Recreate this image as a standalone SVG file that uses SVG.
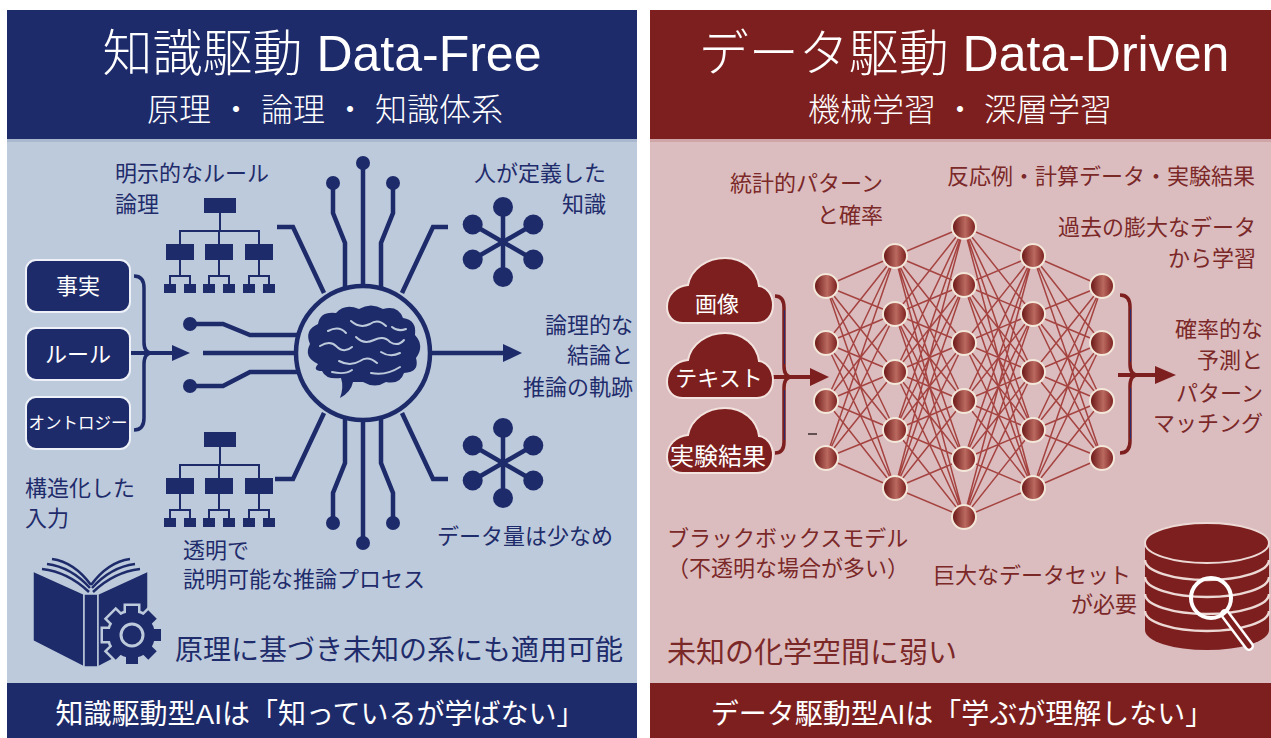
<svg xmlns="http://www.w3.org/2000/svg" xmlns:xlink="http://www.w3.org/1999/xlink" width="1271" height="738" viewBox="0 0 1271 738">
  <style>
    .jp { font-family: "Noto Sans CJK JP", "Noto Sans", sans-serif; }
    .mix { font-family: "Liberation Sans", "Noto Sans CJK JP", sans-serif; }
    .light { font-weight: 300; }
    .navyTxt { fill: #1f2c6c; font-size: 22px; }
    .redTxt { fill: #7b2828; font-size: 22px; }
    .white { fill: #ffffff; }
    .circuit { fill: none; stroke: #1e2b6b; stroke-width: 4.5; }
    .navyFill { fill: #1e2b6b; }
    .redFill { fill: #7e1f1f; }
    .tree line { stroke: #1e2b6b; stroke-width: 2; }
    .tree rect { fill: #1e2b6b; }
    .net { fill: none; stroke: #9e3532; stroke-width: 1.5; stroke-opacity: 0.9; }
    .node { fill: url(#nodeGrad); stroke: #f3e7da; stroke-width: 2; }
    .cloud { fill: #7e1f1f; stroke: #f3e3df; stroke-width: 2; }
  </style>
  <defs>
    <linearGradient id="nodeGrad" x1="0" y1="0" x2="1" y2="0">
      <stop offset="0" stop-color="#661313"/>
      <stop offset="0.55" stop-color="#bb6a60"/>
      <stop offset="1" stop-color="#781c1c"/>
    </linearGradient>
    <!-- org-chart icon -->
    <g id="tree" class="tree">
      <rect x="204" y="432" width="32" height="15"/>
      <line x1="220" y1="447" x2="220" y2="465"/>
      <line x1="179" y1="465" x2="260" y2="465"/>
      <line x1="180" y1="465" x2="180" y2="478"/>
      <line x1="219" y1="465" x2="219" y2="478"/>
      <line x1="259" y1="465" x2="259" y2="478"/>
      <rect x="166" y="478" width="28" height="16"/>
      <rect x="205" y="478" width="28" height="16"/>
      <rect x="245" y="478" width="28" height="16"/>
      <line x1="180" y1="494" x2="180" y2="510"/>
      <line x1="219" y1="494" x2="219" y2="510"/>
      <line x1="259" y1="494" x2="259" y2="510"/>
      <line x1="169" y1="510" x2="191" y2="510"/>
      <line x1="208" y1="510" x2="230" y2="510"/>
      <line x1="248" y1="510" x2="270" y2="510"/>
      <line x1="170" y1="510" x2="170" y2="518"/>
      <line x1="190" y1="510" x2="190" y2="518"/>
      <line x1="209" y1="510" x2="209" y2="518"/>
      <line x1="229" y1="510" x2="229" y2="518"/>
      <line x1="249" y1="510" x2="249" y2="518"/>
      <line x1="269" y1="510" x2="269" y2="518"/>
      <rect x="164" y="518" width="12" height="9"/>
      <rect x="184" y="518" width="12" height="9"/>
      <rect x="203" y="518" width="12" height="9"/>
      <rect x="223" y="518" width="12" height="9"/>
      <rect x="243" y="518" width="12" height="9"/>
      <rect x="263" y="518" width="12" height="9"/>
    </g>
    <!-- six-armed network star -->
    <g id="star">
      <line x1="0" y1="-35" x2="0" y2="35" stroke="#1e2b6b" stroke-width="4.5"/>
      <line x1="-30.3" y1="-17.5" x2="30.3" y2="17.5" stroke="#1e2b6b" stroke-width="4.5"/>
      <line x1="-30.3" y1="17.5" x2="30.3" y2="-17.5" stroke="#1e2b6b" stroke-width="4.5"/>
      <circle cx="0" cy="-35" r="10" fill="#1e2b6b"/>
      <circle cx="0" cy="35" r="10" fill="#1e2b6b"/>
      <circle cx="-30.3" cy="-17.5" r="10" fill="#1e2b6b"/>
      <circle cx="30.3" cy="17.5" r="10" fill="#1e2b6b"/>
      <circle cx="-30.3" cy="17.5" r="10" fill="#1e2b6b"/>
      <circle cx="30.3" cy="-17.5" r="10" fill="#1e2b6b"/>
    </g>
    <!-- gear silhouette -->
    <g id="gearShape">
      <circle r="23"/>
      <rect x="-6" y="-29" width="12" height="10"/>
      <rect x="-6" y="-29" width="12" height="10" transform="rotate(45)"/>
      <rect x="-6" y="-29" width="12" height="10" transform="rotate(90)"/>
      <rect x="-6" y="-29" width="12" height="10" transform="rotate(135)"/>
      <rect x="-6" y="-29" width="12" height="10" transform="rotate(180)"/>
      <rect x="-6" y="-29" width="12" height="10" transform="rotate(225)"/>
      <rect x="-6" y="-29" width="12" height="10" transform="rotate(270)"/>
      <rect x="-6" y="-29" width="12" height="10" transform="rotate(315)"/>
    </g>
    <path id="cloudShape" d="M16 65 C6 65 0 58 0 49 C0 37 9 28 21 27 C24 11 40 0 58 0 C76 0 90 12 92 28 C100 29 106 37 106 47 C106 58 99 65 90 65 Z"/>
  </defs>

  <rect width="1271" height="738" fill="#ffffff"/>

  <!-- ===== left panel: knowledge-driven ===== -->
  <g id="left-panel">
    <rect x="7" y="139" width="630" height="544" fill="#bdcadb"/>
    <rect x="7" y="10" width="630" height="129" fill="#1e2b6b"/>
    <rect x="7" y="139" width="630" height="3" fill="#a9b8cf"/>
    <rect x="7" y="683" width="630" height="55" fill="#1e2b6b"/>
    <text class="mix white light" x="322" y="71" font-size="50" text-anchor="middle">知識駆動 Data-Free</text>
    <text class="jp white light" y="121" font-size="32"><tspan x="147">原理</tspan><tspan x="220">・</tspan><tspan x="261">論理</tspan><tspan x="334">・</tspan><tspan x="375">知識体系</tspan></text>
    <text class="mix white" x="320" y="724" font-size="28" text-anchor="middle">知識駆動型AIは「知っているが学ばない」</text>
  </g>

  <!-- ===== right panel: data-driven ===== -->
  <g id="right-panel">
    <rect x="650" y="139" width="621" height="544" fill="#dbbdbf"/>
    <rect x="650" y="10" width="621" height="129" fill="#7e1f1f"/>
    <rect x="650" y="139" width="621" height="3" fill="#cfa5a7"/>
    <rect x="650" y="683" width="621" height="55" fill="#7e1f1f"/>
    <text class="mix white light" x="964" y="71" font-size="50" text-anchor="middle">データ駆動 Data-Driven</text>
    <text class="jp white light" y="121" font-size="32"><tspan x="808">機械学習</tspan><tspan x="944">・</tspan><tspan x="984">深層学習</tspan></text>
    <text class="mix white" x="962" y="724" font-size="28" text-anchor="middle">データ駆動型AIは「学ぶが理解しない」</text>
  </g>

  <!-- ===== connectors ===== -->
  <g id="connectors">
    <!-- left: circuit traces around the brain -->
    <path class="circuit" d="M363,287 L363,165"/>
    <path class="circuit" d="M345,288 L345,243 L333,213 L333,185"/>
    <path class="circuit" d="M381,288 L381,243 L393,213 L393,185"/>
    <path class="circuit" d="M277,227 L293,227 L324,293"/>
    <path class="circuit" d="M448,227 L433,227 L402,293"/>
    <path class="circuit" d="M363,419 L363,541"/>
    <path class="circuit" d="M345,418 L345,463 L333,493 L333,521"/>
    <path class="circuit" d="M381,418 L381,463 L393,493 L393,521"/>
    <path class="circuit" d="M275,479 L293,479 L324,413"/>
    <path class="circuit" d="M448,479 L433,479 L402,413"/>
    <path class="circuit" d="M190,324 L223,324 L250,335 L302,335"/>
    <path class="circuit" d="M203,353 L302,353"/>
    <path class="circuit" d="M190,386 L223,386 L250,372 L302,372"/>
    <g class="navyFill">
      <circle cx="363" cy="163" r="7"/>
      <circle cx="333" cy="183" r="7"/>
      <circle cx="393" cy="183" r="7"/>
      <circle cx="363" cy="543" r="7"/>
      <circle cx="333" cy="523" r="7"/>
      <circle cx="393" cy="523" r="7"/>
      <circle cx="190" cy="324" r="7"/>
      <circle cx="190" cy="386" r="7"/>
    </g>
    <!-- left: output arrow -->
    <path class="circuit" d="M432,353 L506,353"/>
    <polygon class="navyFill" points="503,344 522,353 503,362"/>
    <!-- left: input brace and arrow -->
    <path d="M134,276 Q144,276 144,288 L144,342 Q144,353 152,353 Q144,353 144,364 L144,418 Q144,430 134,430" fill="none" stroke="#1e2b6b" stroke-width="3.5"/>
    <path d="M131,353 L176,353" stroke="#1e2b6b" stroke-width="4"/>
    <polygon class="navyFill" points="172,345 190,353 172,361"/>

    <!-- right: fully connected layers -->
    <path class="net" d="M826,286L895,256M826,286L895,314M826,286L895,372M826,286L895,430M826,286L895,488M826,343L895,256M826,343L895,314M826,343L895,372M826,343L895,430M826,343L895,488M826,401L895,256M826,401L895,314M826,401L895,372M826,401L895,430M826,401L895,488M826,458L895,256M826,458L895,314M826,458L895,372M826,458L895,430M826,458L895,488"/>
    <path class="net" d="M895,256L964,227M895,256L964,285M895,256L964,343M895,256L964,401M895,256L964,459M895,256L964,517M895,314L964,227M895,314L964,285M895,314L964,343M895,314L964,401M895,314L964,459M895,314L964,517M895,372L964,227M895,372L964,285M895,372L964,343M895,372L964,401M895,372L964,459M895,372L964,517M895,430L964,227M895,430L964,285M895,430L964,343M895,430L964,401M895,430L964,459M895,430L964,517M895,488L964,227M895,488L964,285M895,488L964,343M895,488L964,401M895,488L964,459M895,488L964,517"/>
    <path class="net" d="M964,227L1033,256M964,227L1033,314M964,227L1033,372M964,227L1033,430M964,227L1033,488M964,285L1033,256M964,285L1033,314M964,285L1033,372M964,285L1033,430M964,285L1033,488M964,343L1033,256M964,343L1033,314M964,343L1033,372M964,343L1033,430M964,343L1033,488M964,401L1033,256M964,401L1033,314M964,401L1033,372M964,401L1033,430M964,401L1033,488M964,459L1033,256M964,459L1033,314M964,459L1033,372M964,459L1033,430M964,459L1033,488M964,517L1033,256M964,517L1033,314M964,517L1033,372M964,517L1033,430M964,517L1033,488"/>
    <path class="net" d="M1033,256L1102,286M1033,256L1102,343M1033,256L1102,401M1033,256L1102,458M1033,314L1102,286M1033,314L1102,343M1033,314L1102,401M1033,314L1102,458M1033,372L1102,286M1033,372L1102,343M1033,372L1102,401M1033,372L1102,458M1033,430L1102,286M1033,430L1102,343M1033,430L1102,401M1033,430L1102,458M1033,488L1102,286M1033,488L1102,343M1033,488L1102,401M1033,488L1102,458"/>
    <!-- right: input brace and arrow -->
    <path d="M775,296 Q784,296 784,308 L784,366 Q784,377 792,377 Q784,377 784,388 L784,442 Q784,453 775,453" fill="none" stroke="#7e1f1f" stroke-width="3.5"/>
    <path d="M784.5,310 L784.5,364 M784.5,390 L784.5,440" stroke="#2b2c6e" stroke-width="1"/>
    <path d="M770,377 L812,377" stroke="#7e1f1f" stroke-width="4"/>
    <polygon class="redFill" points="810,368 829,377 810,386"/>
    <!-- right: output brace and arrow -->
    <path d="M1120,295 Q1130,295 1130,307 L1130,364 Q1130,375 1138,375 Q1130,375 1130,386 L1130,441 Q1130,453 1120,453" fill="none" stroke="#7e1f1f" stroke-width="3.5"/>
    <path d="M1130.5,309 L1130.5,362 M1130.5,388 L1130.5,439" stroke="#2b2c6e" stroke-width="1"/>
    <path d="M1118,375 L1158,375" stroke="#7e1f1f" stroke-width="4"/>
    <polygon class="redFill" points="1155,366 1176,375 1155,384"/>
    <path d="M808,434 L817,434" stroke="#3a2c2c" stroke-width="1.5"/>
  </g>

  <!-- ===== left nodes ===== -->
  <g id="brain-hub">
    <circle cx="363" cy="353" r="67" fill="#bdcadb" stroke="#1e2b6b" stroke-width="4.5"/>
    <path class="navyFill" d="M318,364 Q303,357 310,344 Q304,330 318,324 Q320,311 336,313 Q345,303 359,309 Q371,302 383,309 Q398,305 403,318 Q417,320 415,335 Q425,346 416,358 Q420,372 404,373 Q400,385 386,382 Q375,389 363,382 L353,382 Q351,392 340,398 Q344,387 341,378 Q326,380 322,371 Q312,371 318,364 Z"/>
    <g fill="none" stroke="#bdcadb" stroke-width="2" stroke-linecap="round">
      <path d="M320,346 Q330,340 336,346 Q344,354 352,347"/>
      <path d="M328,331 Q339,325 346,333"/>
      <path d="M351,321 Q360,329 370,324 Q378,318 386,326"/>
      <path d="M356,337 Q364,345 374,340 Q384,335 390,342 Q398,347 404,340"/>
      <path d="M339,361 Q350,367 360,361 Q368,355 377,363"/>
      <path d="M381,352 Q390,358 400,353"/>
      <path d="M392,327 Q398,332 406,329"/>
      <path d="M332,372 Q345,375 352,370"/>
      <path d="M371,373 Q386,376 400,367"/>
    </g>
  </g>

  <g id="tree-top"><use xlink:href="#tree" transform="translate(0,-234)"/></g>
  <g id="tree-bottom"><use xlink:href="#tree"/></g>
  <g id="star-top"><use xlink:href="#star" transform="translate(503,242)"/></g>
  <g id="star-bottom"><use xlink:href="#star" transform="translate(503,463)"/></g>

  <g id="box-facts">
    <rect x="26" y="260" width="104" height="52" rx="10" fill="#1e2b6b" stroke="#eef2f8" stroke-width="2"/>
    <text class="jp white" x="78" y="294" font-size="22" text-anchor="middle">事実</text>
  </g>
  <g id="box-rules">
    <rect x="26" y="328" width="104" height="52" rx="10" fill="#1e2b6b" stroke="#eef2f8" stroke-width="2"/>
    <text class="jp white" x="78" y="362" font-size="22" text-anchor="middle">ルール</text>
  </g>
  <g id="box-ontology">
    <rect x="26" y="397" width="104" height="52" rx="10" fill="#1e2b6b" stroke="#eef2f8" stroke-width="2"/>
    <text class="jp white" x="78" y="429" font-size="16.5" text-anchor="middle">オントロジー</text>
  </g>

  <g id="book-gear">
    <polygon points="33,571 84,594 84,667 33,641" fill="#1e2b6b" stroke="#bdcadb" stroke-width="1.5"/>
    <rect x="84" y="594" width="14" height="73" fill="#1e2b6b" stroke="#bdcadb" stroke-width="1.5"/>
    <polygon points="98,594 148,571 148,641 98,667" fill="#1e2b6b" stroke="#bdcadb" stroke-width="1.5"/>
    <g fill="none" stroke="#1e2b6b" stroke-width="2.5">
      <path d="M42,569 Q68,572 89,592"/>
      <path d="M47,564 Q71,567 90,588"/>
      <path d="M52,559 Q74,562 91,585"/>
      <path d="M140,569 Q114,572 93,592"/>
      <path d="M135,564 Q111,567 92,588"/>
      <path d="M130,559 Q108,562 91,585"/>
    </g>
    <use xlink:href="#gearShape" transform="translate(132,635)" fill="#bdcadb" stroke="#bdcadb" stroke-width="5"/>
    <use xlink:href="#gearShape" transform="translate(132,635)" fill="#1e2b6b"/>
    <circle cx="132" cy="635" r="11" fill="#1e2b6b" stroke="#bdcadb" stroke-width="3"/>
  </g>

  <!-- left labels -->
  <g id="left-labels" class="jp navyTxt">
    <text x="115" y="181">明示的なルール</text>
    <text x="115" y="212">論理</text>
    <text x="606" y="181" text-anchor="end">人が定義した</text>
    <text x="606" y="212" text-anchor="end">知識</text>
    <text x="633" y="333" text-anchor="end">論理的な</text>
    <text x="633" y="363" text-anchor="end">結論と</text>
    <text x="633" y="395" text-anchor="end">推論の軌跡</text>
    <text x="25" y="496">構造化した</text>
    <text x="25" y="526">入力</text>
    <text x="183" y="558">透明で</text>
    <text x="183" y="587">説明可能な推論プロセス</text>
    <text x="437" y="544">データ量は少なめ</text>
    <text x="175" y="660" font-size="28">原理に基づき未知の系にも適用可能</text>
  </g>

  <!-- ===== right nodes ===== -->
  <g id="cloud-image">
    <use xlink:href="#cloudShape" class="cloud" transform="translate(667,258)"/>
    <text class="jp white" x="717" y="312" font-size="22" text-anchor="middle">画像</text>
  </g>
  <g id="cloud-text">
    <use xlink:href="#cloudShape" class="cloud" transform="translate(667,333)"/>
    <text class="jp white" x="719" y="386" font-size="22" text-anchor="middle">テキスト</text>
  </g>
  <g id="cloud-experiment">
    <use xlink:href="#cloudShape" class="cloud" transform="translate(667,408)"/>
    <text class="jp white" x="718" y="465" font-size="24" text-anchor="middle">実験結果</text>
  </g>

  <g id="network-nodes">
    <circle class="node" cx="826" cy="286" r="12"/>
    <circle class="node" cx="826" cy="343" r="12"/>
    <circle class="node" cx="826" cy="401" r="12"/>
    <circle class="node" cx="826" cy="458" r="12"/>
    <circle class="node" cx="895" cy="256" r="12"/>
    <circle class="node" cx="895" cy="314" r="12"/>
    <circle class="node" cx="895" cy="372" r="12"/>
    <circle class="node" cx="895" cy="430" r="12"/>
    <circle class="node" cx="895" cy="488" r="12"/>
    <circle class="node" cx="964" cy="227" r="12"/>
    <circle class="node" cx="964" cy="285" r="12"/>
    <circle class="node" cx="964" cy="343" r="12"/>
    <circle class="node" cx="964" cy="401" r="12"/>
    <circle class="node" cx="964" cy="459" r="12"/>
    <circle class="node" cx="964" cy="517" r="12"/>
    <circle class="node" cx="1033" cy="256" r="12"/>
    <circle class="node" cx="1033" cy="314" r="12"/>
    <circle class="node" cx="1033" cy="372" r="12"/>
    <circle class="node" cx="1033" cy="430" r="12"/>
    <circle class="node" cx="1033" cy="488" r="12"/>
    <circle class="node" cx="1102" cy="286" r="12"/>
    <circle class="node" cx="1102" cy="343" r="12"/>
    <circle class="node" cx="1102" cy="401" r="12"/>
    <circle class="node" cx="1102" cy="458" r="12"/>
  </g>

  <g id="database">
    <path d="M1145,543 L1145,630 A62,20 0 0 0 1269,630 L1269,543 Z" fill="#7e1f1f"/>
    <g fill="none" stroke="#ecd8d4" stroke-width="2.5">
      <path d="M1145,560 A62,20 0 0 0 1269,560"/>
      <path d="M1145,577 A62,20 0 0 0 1269,577"/>
      <path d="M1145,594 A62,20 0 0 0 1269,594"/>
      <path d="M1145,611 A62,20 0 0 0 1269,611"/>
    </g>
    <ellipse cx="1207" cy="543" rx="62" ry="20" fill="#7e1f1f" stroke="#ecd8d4" stroke-width="2"/>
    <line x1="1225" y1="614" x2="1249" y2="646" stroke="#ffffff" stroke-width="10" stroke-linecap="round"/>
    <line x1="1225" y1="614" x2="1249" y2="646" stroke="#7e1f1f" stroke-width="5" stroke-linecap="round"/>
    <circle cx="1211" cy="598" r="20" fill="none" stroke="#ffffff" stroke-width="4"/>
  </g>

  <!-- right labels -->
  <g id="right-labels" class="jp redTxt">
    <text x="883" y="191" text-anchor="end">統計的パターン</text>
    <text x="883" y="223" text-anchor="end">と確率</text>
    <text x="947" y="184">反応例・計算データ・実験結果</text>
    <text x="1256" y="235" text-anchor="end">過去の膨大なデータ</text>
    <text x="1256" y="266" text-anchor="end">から学習</text>
    <text x="1263" y="337" text-anchor="end">確率的な</text>
    <text x="1263" y="368" text-anchor="end">予測と</text>
    <text x="1263" y="401" text-anchor="end">パターン</text>
    <text x="1263" y="431" text-anchor="end">マッチング</text>
    <text x="667" y="546">ブラックボックスモデル</text>
    <text x="667" y="576">（不透明な場合が多い）</text>
    <text x="933" y="583">巨大なデータセット</text>
    <text x="1137" y="612" text-anchor="end">が必要</text>
    <text x="667" y="663" font-size="29">未知の化学空間に弱い</text>
  </g>
</svg>
